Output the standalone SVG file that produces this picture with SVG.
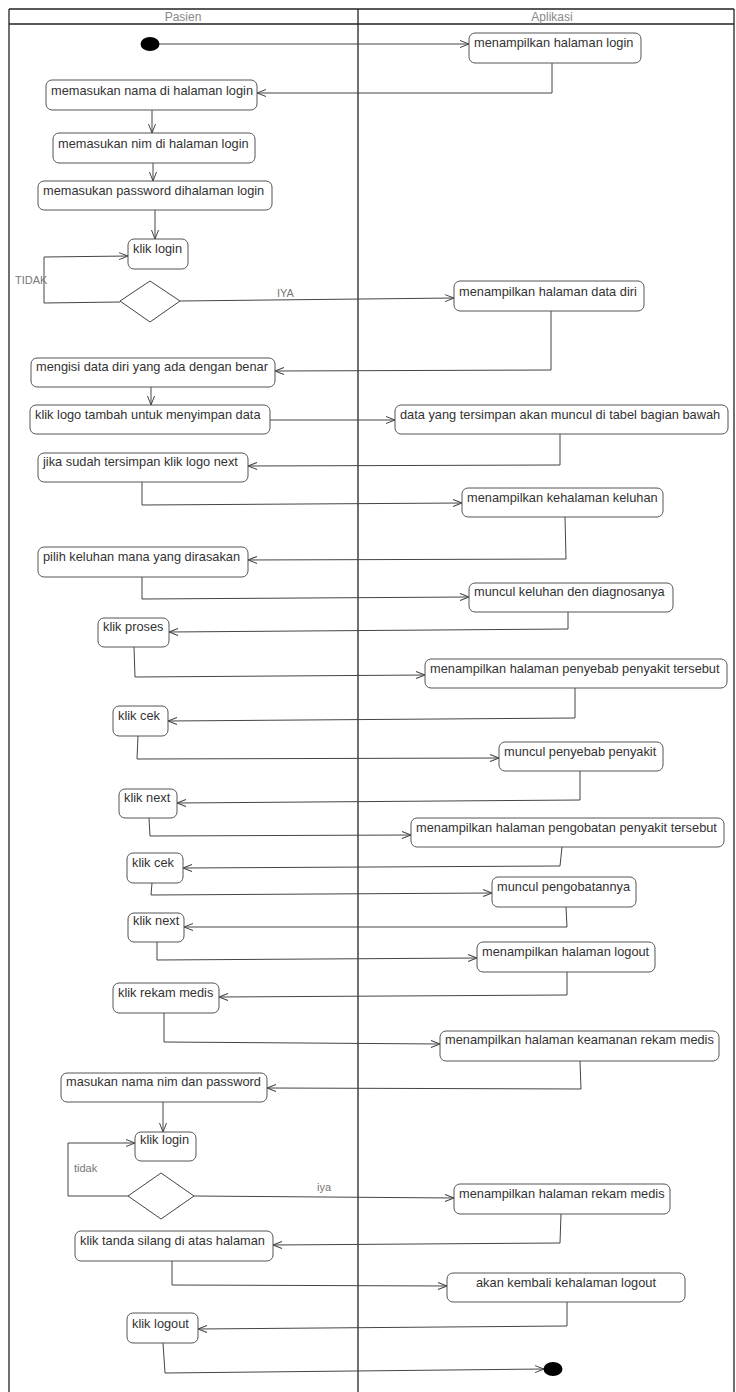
<svg xmlns="http://www.w3.org/2000/svg" width="736" height="1392" viewBox="0 0 736 1392">
<defs>
<style>
.lane{fill:none;stroke:#222;stroke-width:1.3}
.hdr{font-family:"Liberation Sans",Arial,sans-serif;font-size:12px;fill:#888;text-anchor:middle}
.box{fill:#fff;stroke:#555;stroke-width:1}
.t{font-family:"Liberation Sans",Arial,sans-serif;font-size:12.8px;fill:#333}
.lbl{font-family:"Liberation Sans",Arial,sans-serif;font-size:11px;fill:#777}
.c{fill:none;stroke:#444;stroke-width:1}
.dia{fill:#fff;stroke:#444;stroke-width:1}
</style>
<marker id="ah" markerUnits="userSpaceOnUse" markerWidth="12" markerHeight="10" refX="10" refY="4" orient="auto">
<path d="M1,0.5 L10,4 L1,7.5" fill="none" stroke="#444" stroke-width="1"/>
</marker>
</defs>
<rect width="736" height="1392" fill="#fff"/>
<g id="swimlanes">
<line class="lane" x1="9" y1="9" x2="734" y2="9"/>
<line class="lane" x1="9" y1="24" x2="734" y2="24"/>
<line class="lane" x1="9" y1="9" x2="9" y2="1392"/>
<line class="lane" x1="358" y1="9" x2="358" y2="1392"/>
<line class="lane" x1="734" y1="9" x2="734" y2="1392"/>
<text class="hdr" x="183" y="21">Pasien</text>
<text class="hdr" x="552" y="21">Aplikasi</text>
</g>
<g id="connectors">
<path class="c" marker-end="url(#ah)" d="M159,44 L469,44"/>
<path class="c" marker-end="url(#ah)" d="M552,63 L552,93 L257,93"/>
<path class="c" marker-end="url(#ah)" d="M152,110 L152,133"/>
<path class="c" marker-end="url(#ah)" d="M153,163 L153,181"/>
<path class="c" marker-end="url(#ah)" d="M155,210 L155,239"/>
<path class="c" marker-end="url(#ah)" d="M120,302 L44,303 L44,257 L128,256"/>
<path class="c" marker-end="url(#ah)" d="M180,301 L454,298"/>
<path class="c" marker-end="url(#ah)" d="M551,311 L551,370 L275,371"/>
<path class="c" marker-end="url(#ah)" d="M151,387 L151,405"/>
<path class="c" marker-end="url(#ah)" d="M270,420 L395,420"/>
<path class="c" marker-end="url(#ah)" d="M560,434 L560,465 L248,466"/>
<path class="c" marker-end="url(#ah)" d="M142,482 L142,505 L462,503"/>
<path class="c" marker-end="url(#ah)" d="M565,517 L566,559 L248,560"/>
<path class="c" marker-end="url(#ah)" d="M142,577 L142,599 L469,597"/>
<path class="c" marker-end="url(#ah)" d="M568,612 L568,629 L169,632"/>
<path class="c" marker-end="url(#ah)" d="M134,647 L135,677 L425,675"/>
<path class="c" marker-end="url(#ah)" d="M575,688 L575,718 L168,721"/>
<path class="c" marker-end="url(#ah)" d="M138,736 L137,759 L499,758"/>
<path class="c" marker-end="url(#ah)" d="M580,771 L580,800 L177,803"/>
<path class="c" marker-end="url(#ah)" d="M149,818 L150,836 L411,835"/>
<path class="c" marker-end="url(#ah)" d="M562,847 L560,866 L183,868"/>
<path class="c" marker-end="url(#ah)" d="M152,883 L151,895 L492,893"/>
<path class="c" marker-end="url(#ah)" d="M566,907 L567,927 L184,927"/>
<path class="c" marker-end="url(#ah)" d="M157,942 L157,960 L477,958"/>
<path class="c" marker-end="url(#ah)" d="M567,972 L567,995 L219,997"/>
<path class="c" marker-end="url(#ah)" d="M164,1013 L164,1042 L440,1044"/>
<path class="c" marker-end="url(#ah)" d="M580,1061 L581,1089 L267,1088"/>
<path class="c" marker-end="url(#ah)" d="M163,1102 L163,1132"/>
<path class="c" marker-end="url(#ah)" d="M128,1196 L68,1196 L68,1143 L135,1143"/>
<path class="c" marker-end="url(#ah)" d="M194,1196 L454,1198"/>
<path class="c" marker-end="url(#ah)" d="M561,1214 L560,1243 L273,1245"/>
<path class="c" marker-end="url(#ah)" d="M172,1261 L172,1285 L447,1286"/>
<path class="c" marker-end="url(#ah)" d="M567,1302 L567,1326 L198,1329"/>
<path class="c" marker-end="url(#ah)" d="M163,1343 L165,1373 L544,1369"/>
<text class="lbl" x="15" y="284">TIDAK</text>
<text class="lbl" x="277" y="297">IYA</text>
<text class="lbl" x="74" y="1172">tidak</text>
<text class="lbl" x="317" y="1191">iya</text>
</g>
<g id="start"><ellipse cx="150" cy="44" rx="9.5" ry="7" fill="#000"/></g>
<g id="a1"><rect class="box" x="469" y="33" width="172" height="30" rx="6"/><text class="t" x="474" y="47">menampilkan halaman login</text></g>
<g id="p1"><rect class="box" x="46" y="80" width="211" height="30" rx="6"/><text class="t" x="51" y="95">memasukan nama di halaman login</text></g>
<g id="p2"><rect class="box" x="53" y="133" width="202" height="30" rx="6"/><text class="t" x="58" y="148">memasukan nim di halaman login</text></g>
<g id="p3"><rect class="box" x="38" y="181" width="234" height="29" rx="6"/><text class="t" x="43" y="195">memasukan password dihalaman login</text></g>
<g id="p4"><rect class="box" x="128" y="239" width="60" height="30" rx="6"/><text class="t" x="133" y="253">klik login</text></g>
<g id="d1"><polygon class="dia" points="150,281 180,301 150,322 120,301"/></g>
<g id="a2"><rect class="box" x="454" y="281" width="190" height="30" rx="6"/><text class="t" x="459" y="296">menampilkan halaman data diri</text></g>
<g id="p5"><rect class="box" x="31" y="358" width="244" height="29" rx="6"/><text class="t" x="36" y="371">mengisi data diri yang ada dengan benar</text></g>
<g id="p6"><rect class="box" x="30" y="405" width="240" height="29" rx="6"/><text class="t" x="35" y="419">klik logo tambah untuk menyimpan data</text></g>
<g id="a3"><rect class="box" x="395" y="405" width="333" height="29" rx="6"/><text class="t" x="400" y="419">data yang tersimpan akan muncul di tabel bagian bawah</text></g>
<g id="p7"><rect class="box" x="38" y="453" width="210" height="29" rx="6"/><text class="t" x="43" y="466">jika sudah tersimpan klik logo next</text></g>
<g id="a4"><rect class="box" x="462" y="488" width="201" height="29" rx="6"/><text class="t" x="467" y="502">menampilkan kehalaman keluhan</text></g>
<g id="p8"><rect class="box" x="38" y="547" width="210" height="30" rx="6"/><text class="t" x="43" y="561">pilih keluhan mana yang dirasakan</text></g>
<g id="a5"><rect class="box" x="469" y="583" width="204" height="29" rx="6"/><text class="t" x="474" y="596">muncul keluhan den diagnosanya</text></g>
<g id="p9"><rect class="box" x="98" y="618" width="71" height="29" rx="6"/><text class="t" x="103" y="631">klik proses</text></g>
<g id="a6"><rect class="box" x="425" y="659" width="302" height="29" rx="6"/><text class="t" x="430" y="673">menampilkan halaman penyebab penyakit tersebut</text></g>
<g id="p10"><rect class="box" x="113" y="706" width="55" height="30" rx="6"/><text class="t" x="118" y="720">klik cek</text></g>
<g id="a7"><rect class="box" x="499" y="742" width="164" height="29" rx="6"/><text class="t" x="504" y="756">muncul penyebab penyakit</text></g>
<g id="p11"><rect class="box" x="119" y="789" width="58" height="29" rx="6"/><text class="t" x="124" y="802">klik next</text></g>
<g id="a8"><rect class="box" x="411" y="818" width="313" height="29" rx="6"/><text class="t" x="416" y="832">menampilkan halaman pengobatan penyakit tersebut</text></g>
<g id="p12"><rect class="box" x="127" y="853" width="56" height="30" rx="6"/><text class="t" x="132" y="867">klik cek</text></g>
<g id="a9"><rect class="box" x="492" y="877" width="144" height="30" rx="6"/><text class="t" x="497" y="891">muncul pengobatannya</text></g>
<g id="p13"><rect class="box" x="128" y="913" width="56" height="29" rx="6"/><text class="t" x="133" y="925">klik next</text></g>
<g id="a10"><rect class="box" x="477" y="942" width="178" height="30" rx="6"/><text class="t" x="482" y="956">menampilkan halaman logout</text></g>
<g id="p14"><rect class="box" x="113" y="983" width="106" height="30" rx="6"/><text class="t" x="118" y="997">klik rekam medis</text></g>
<g id="a11"><rect class="box" x="440" y="1031" width="279" height="30" rx="6"/><text class="t" x="445" y="1044">menampilkan halaman keamanan rekam medis</text></g>
<g id="p15"><rect class="box" x="61" y="1073" width="206" height="29" rx="6"/><text class="t" x="66" y="1086">masukan nama nim dan password</text></g>
<g id="p16"><rect class="box" x="135" y="1132" width="61" height="29" rx="6"/><text class="t" x="140" y="1144">klik login</text></g>
<g id="d2"><polygon class="dia" points="161,1173 194,1196 161,1219 128,1196"/></g>
<g id="a12"><rect class="box" x="454" y="1184" width="216" height="30" rx="6"/><text class="t" x="459" y="1198">menampilkan halaman rekam medis</text></g>
<g id="p17"><rect class="box" x="75" y="1231" width="198" height="30" rx="6"/><text class="t" x="80" y="1245">klik tanda silang di atas halaman</text></g>
<g id="a13"><rect class="box" x="447" y="1273" width="238" height="29" rx="6"/><text class="t" x="566" y="1287" text-anchor="middle">akan kembali kehalaman logout</text></g>
<g id="p18"><rect class="box" x="127" y="1313" width="71" height="30" rx="6"/><text class="t" x="132" y="1328">klik logout</text></g>
<g id="end"><ellipse cx="553" cy="1369" rx="9.5" ry="7" fill="#000"/></g>
</svg>
